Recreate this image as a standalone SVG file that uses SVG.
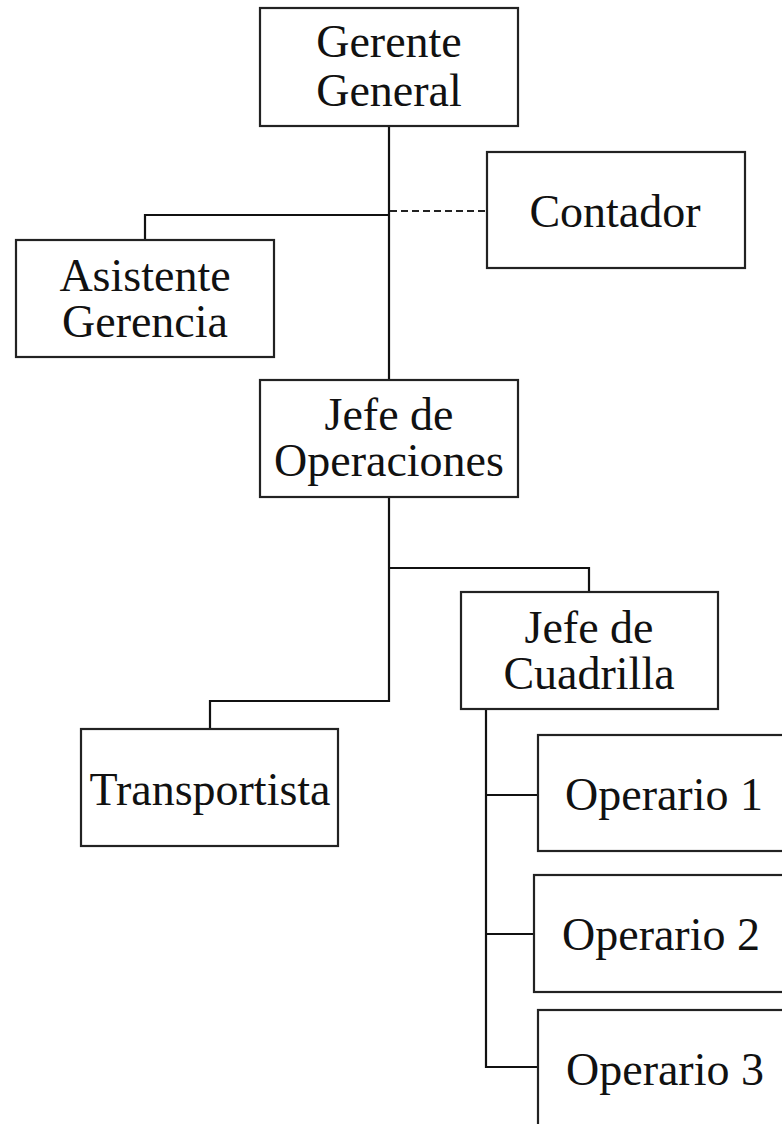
<svg xmlns="http://www.w3.org/2000/svg" width="782" height="1124" viewBox="0 0 782 1124">
<style>
.box{fill:#fff;stroke:#222;stroke-width:2.2}
.t{font-family:"Liberation Serif","Times New Roman",serif;font-size:46px;fill:#111;text-anchor:middle}
.ln{fill:none;stroke:#111;stroke-width:2.2}
.dash{fill:none;stroke:#222;stroke-width:2;stroke-dasharray:7 4}
</style>
<rect width="782" height="1124" fill="#fff"/>
<g id="connectors">
<path class="ln" d="M389 126 V380"/>
<path class="ln" d="M389 215 H145 V240"/>
<path class="dash" d="M390 211 H487"/>
<path class="ln" d="M389 497 V701 H210 V729"/>
<path class="ln" d="M389 568 H589 V592"/>
<path class="ln" d="M486 709 V1067 H538"/>
<path class="ln" d="M486 795 H538"/>
<path class="ln" d="M486 934 H534"/>
</g>
<g id="gerente">
<rect class="box" x="260" y="8" width="258" height="118"/>
<text class="t" x="389" y="57">Gerente</text>
<text class="t" x="389" y="106">General</text>
</g>
<g id="contador">
<rect class="box" x="487" y="152" width="258" height="116"/>
<text class="t" x="615" y="227">Contador</text>
</g>
<g id="asistente">
<rect class="box" x="16" y="240" width="258" height="117"/>
<text class="t" x="145" y="291">Asistente</text>
<text class="t" x="145" y="337">Gerencia</text>
</g>
<g id="jefe-operaciones">
<rect class="box" x="260" y="380" width="258" height="117"/>
<text class="t" x="389" y="430">Jefe de</text>
<text class="t" x="389" y="476">Operaciones</text>
</g>
<g id="jefe-cuadrilla">
<rect class="box" x="461" y="592" width="257" height="117"/>
<text class="t" x="589" y="643">Jefe de</text>
<text class="t" x="589" y="689">Cuadrilla</text>
</g>
<g id="transportista">
<rect class="box" x="81" y="729" width="257" height="117"/>
<text class="t" x="210" y="805">Transportista</text>
</g>
<g id="operario1">
<rect class="box" x="538" y="735" width="260" height="116"/>
<text class="t" x="664" y="810">Operario 1</text>
</g>
<g id="operario2">
<rect class="box" x="534" y="875" width="264" height="117"/>
<text class="t" x="661" y="950">Operario 2</text>
</g>
<g id="operario3">
<rect class="box" x="538" y="1010" width="260" height="130"/>
<text class="t" x="665" y="1085">Operario 3</text>
</g>
</svg>
